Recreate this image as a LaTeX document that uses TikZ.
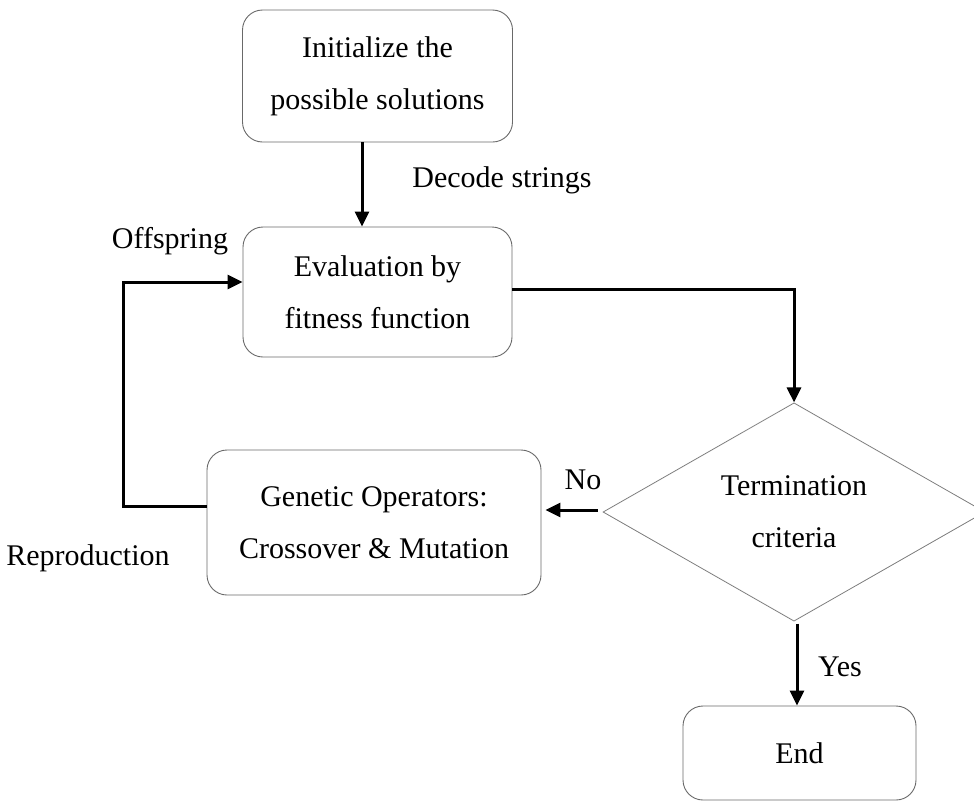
\documentclass[tikz,border=0pt]{standalone}
\usepackage{fontspec}
\setmainfont{Liberation Serif}
\usetikzlibrary{shapes.geometric,arrows.meta}
\definecolor{boxline}{RGB}{105,105,105}
\definecolor{diamline}{RGB}{125,125,125}
\tikzset{
  base/.style={font=\fontsize{30pt}{52pt}\selectfont, align=center},
  procbox/.style={base, draw=boxline, line width=0.9pt, rounded corners=20pt,
    inner sep=0pt},
  decision/.style={base, draw=diamline, line width=0.8pt, diamond, inner sep=0pt},
  lbl/.style={font=\fontsize{30pt}{36pt}\selectfont, inner sep=0pt},
  flow/.style={line width=3pt, -{Triangle[length=15pt,width=14pt]}},
}
\begin{document}
\begin{tikzpicture}[x=1pt,y=-1pt]
  \useasboundingbox (0,0) rectangle (974,801);

  % process boxes
  \node[procbox, minimum width=270pt, minimum height=132pt] (init) at (377.5,76)
    {Initialize the\\possible solutions};
  \node[procbox, minimum width=269pt, minimum height=130pt] (eval) at (377.5,292)
    {Evaluation by\\fitness function};
  \node[procbox, minimum width=334pt, minimum height=145pt] (gen) at (374,522.5)
    {Genetic Operators:\\Crossover \& Mutation};
  \node[procbox, minimum width=233pt, minimum height=94pt] (end) at (799.5,753)
    {End};

  % decision
  \node[decision, minimum width=382pt, minimum height=208pt] (term) at (794,512)
    {Termination\\criteria};

  % connector labels
  \node[lbl] (decode) at (502,180) {Decode strings};
  \node[lbl] (offspring) at (170,241) {Offspring};
  \node[lbl] (repro) at (88,558) {Reproduction};
  \node[lbl] (no) at (583,480) {No};
  \node[lbl] (yes) at (840,667) {Yes};

  % connectors
  \draw[flow] ([xshift=-15.5pt]init.south) -- ([xshift=-15.5pt]eval.north);
  \draw[flow] ([yshift=3pt]eval.east) -| (term.north);
  \coordinate (loop) at (123,506);
  \draw[flow] ([yshift=16.5pt]gen.west) -- (loop) |- ([yshift=10pt]eval.west);
  \draw[flow] ([xshift=-5pt,yshift=2pt]term.west) -- ([xshift=4pt,yshift=12.5pt]gen.east);
  \draw[flow] ([xshift=3pt,yshift=-2pt]term.south) -- ([xshift=-2.5pt]end.north);
\end{tikzpicture}
\end{document}
